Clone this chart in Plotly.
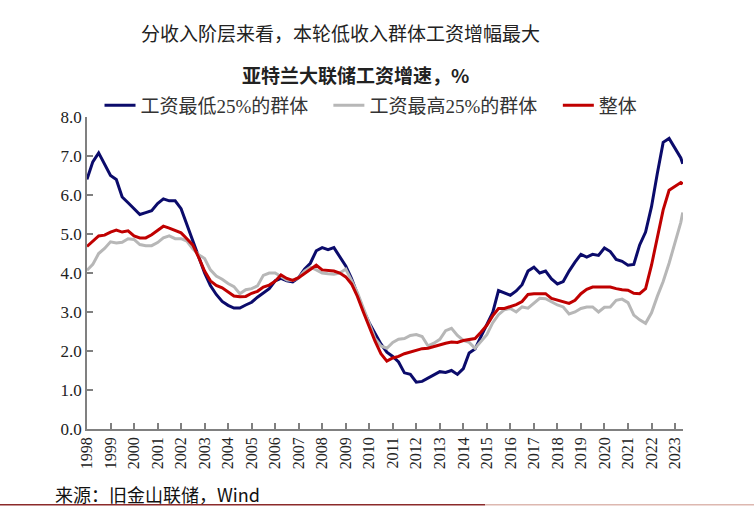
import pandas as pd
import plotly.graph_objects as go

# quarterly observations (Jan/Apr/Jul/Oct) 1998Q1 .. 2023Q2, plus May 2023
dates = list(pd.date_range("1998-01-01", "2023-04-01", freq="QS").strftime("%Y-%m-%d")) + ["2023-05-01"]

low25 = [
    6.40, 6.85, 7.08, 6.80,   # 1998
    6.50, 6.40, 5.95, 5.80,   # 1999
    5.65, 5.50, 5.55, 5.60,   # 2000
    5.78, 5.90, 5.85, 5.85,   # 2001
    5.65, 5.25, 4.80, 4.40,   # 2002
    4.00, 3.68, 3.45, 3.27,   # 2003
    3.17, 3.10, 3.10, 3.18,   # 2004
    3.25, 3.38, 3.50, 3.60,   # 2005
    3.80, 3.86, 3.80, 3.77,   # 2006
    3.88, 4.10, 4.25, 4.57,   # 2007
    4.65, 4.60, 4.65, 4.40,   # 2008
    4.18, 3.86, 3.45, 3.05,   # 2009
    2.72, 2.45, 2.18, 1.97,   # 2010
    1.86, 1.72, 1.44, 1.40,   # 2011
    1.20, 1.22, 1.30, 1.38,   # 2012
    1.47, 1.45, 1.50, 1.40,   # 2013
    1.55, 1.95, 2.05, 2.37,   # 2014
    2.66, 2.98, 3.55, 3.50,   # 2015
    3.43, 3.54, 3.70, 4.05,   # 2016
    4.15, 4.00, 4.05, 3.85,   # 2017
    3.72, 3.78, 4.05, 4.28,   # 2018
    4.48, 4.41, 4.48, 4.45,   # 2019
    4.64, 4.55, 4.35, 4.30,   # 2020
    4.20, 4.22, 4.72, 5.05,   # 2021
    5.70, 6.55, 7.35, 7.45,   # 2022
    7.20, 6.95, 6.80,         # 2023
]

top25 = [
    4.07, 4.22, 4.50, 4.63,
    4.80, 4.77, 4.79, 4.88,
    4.86, 4.73, 4.70, 4.70,
    4.78, 4.90, 4.95, 4.88,
    4.88, 4.82, 4.62, 4.47,
    4.37, 4.08, 3.92, 3.84,
    3.73, 3.65, 3.47, 3.57,
    3.60, 3.67, 3.94, 4.00,
    4.00, 3.92, 3.82, 3.81,
    3.88, 4.05, 4.15, 4.08,
    4.00, 3.98, 3.97, 4.00,
    4.10, 3.81, 3.50, 3.10,
    2.72, 2.32, 2.13, 2.07,
    2.22, 2.30, 2.32, 2.40,
    2.42, 2.37, 2.13, 2.20,
    2.30, 2.52, 2.58, 2.40,
    2.27, 2.22, 2.07, 2.25,
    2.42, 2.72, 2.93, 3.06,
    3.09, 3.00, 3.13, 3.10,
    3.22, 3.35, 3.34, 3.25,
    3.18, 3.13, 2.95, 3.00,
    3.09, 3.13, 3.13, 3.00,
    3.12, 3.13, 3.30, 3.33,
    3.24, 2.92, 2.80, 2.71,
    2.98, 3.40, 3.78, 4.25,
    4.75, 5.30, 5.55,
]

overall = [
    4.68, 4.82, 4.95, 4.97,
    5.05, 5.10, 5.05, 5.08,
    4.95, 4.90, 4.90, 4.98,
    5.08, 5.20, 5.15, 5.10,
    5.03, 4.88, 4.72, 4.40,
    4.05, 3.80, 3.68, 3.62,
    3.52, 3.41, 3.39, 3.40,
    3.48, 3.53, 3.64, 3.69,
    3.79, 3.95, 3.86, 3.81,
    3.88, 3.98, 4.10, 4.20,
    4.08, 4.07, 4.05, 4.00,
    3.90, 3.72, 3.40, 3.00,
    2.60, 2.25, 1.93, 1.74,
    1.82, 1.86, 1.93, 1.97,
    2.02, 2.06, 2.07, 2.12,
    2.17, 2.20, 2.23, 2.22,
    2.27, 2.30, 2.32, 2.48,
    2.66, 2.90, 3.09, 3.09,
    3.14, 3.19, 3.27, 3.45,
    3.47, 3.47, 3.47, 3.35,
    3.30, 3.26, 3.22, 3.30,
    3.47, 3.58, 3.64, 3.64,
    3.64, 3.64, 3.60, 3.57,
    3.56, 3.48, 3.47, 3.60,
    4.20, 4.95, 5.62, 6.12,
    6.22, 6.32, 6.28,
]

series_names = ["工资最低25%的群体", "工资最高25%的群体", "整体"]
series_colors = ["#0B0B6B", "#B7B7B7", "#C00000"]
year_ticks = [f"{y}-01-01" for y in range(1998, 2024)]
year_labels = [str(y) for y in range(1998, 2024)]
y_ticks = [0, 1, 2, 3, 4, 5, 6, 7, 8]
y_labels = [f"{v:.1f}" for v in y_ticks]

title_text = "分收入阶层来看，本轮低收入群体工资增幅最大"
subtitle_text = "亚特兰大联储工资增速，%"
source_text = "来源：旧金山联储，Wind"

FONT = "Liberation Serif, Noto Sans CJK SC, serif"
CJK = "Noto Sans CJK SC, sans-serif"

legend_ids = ["legend", "legend2", "legend3"]
legend_x = [0.021, 0.405, 0.790]

fig = go.Figure()
for name, vals, col, lid in zip(series_names, [low25, top25, overall], series_colors, legend_ids):
    fig.add_trace(go.Scatter(
        x=dates, y=vals, mode="lines", name=name, legend=lid,
        line=dict(color=col, width=3),
    ))

legend_common = dict(
    orientation="h", y=1.037, xanchor="left", yanchor="middle",
    font=dict(family=FONT, size=19, color="#333333"),
    itemwidth=31, bgcolor="rgba(0,0,0,0)",
)

fig.update_layout(
    width=754, height=506,
    margin=dict(l=87, r=71, t=117, b=77, autoexpand=False),
    paper_bgcolor="white", plot_bgcolor="white",
    font=dict(family=FONT, size=17, color="#222222"),
    showlegend=True,
    legend=dict(x=legend_x[0], **legend_common),
    legend2=dict(x=legend_x[1], **legend_common),
    legend3=dict(x=legend_x[2], **legend_common),
    xaxis=dict(
        type="date", range=["1998-01-01", "2023-05-05"],
        tickvals=year_ticks, ticktext=year_labels, tickangle=-90,
        ticks="inside", ticklen=6, tickcolor="#808080", tickwidth=1.5,
        showline=True, linecolor="#808080", linewidth=1.5,
        showgrid=False, zeroline=False,
        tickfont=dict(family=FONT, size=16, color="#222222"),
    ),
    yaxis=dict(
        range=[0, 8], tickvals=y_ticks, ticktext=y_labels,
        ticks="inside", ticklen=6, tickcolor="#808080", tickwidth=1.5,
        showline=True, linecolor="#808080", linewidth=1.5,
        showgrid=False, zeroline=False,
        tickfont=dict(family=FONT, size=17, color="#222222"),
    ),
    annotations=[
        dict(text=title_text, xref="paper", yref="paper", x=0.4245, y=1.27,
             xanchor="center", yanchor="middle", showarrow=False,
             font=dict(family=CJK, size=19, color="#222222")),
        dict(text="<b>" + subtitle_text + "</b>", xref="paper", yref="paper", x=0.45, y=1.136,
             xanchor="center", yanchor="middle", showarrow=False,
             font=dict(family=CJK, size=19, color="#222222")),
        dict(text=source_text, xref="paper", yref="paper", x=-0.057, y=-0.207,
             xanchor="left", yanchor="middle", showarrow=False,
             font=dict(family=CJK, size=18, color="#111111")),
    ],
    shapes=[
        dict(type="line", xref="paper", yref="paper", x0=-0.146, x1=0.668,
             y0=-0.243, y1=-0.243, line=dict(color="#8B2A2A", width=1.5)),
        dict(type="line", xref="paper", yref="paper", x0=0.668, x1=1.12,
             y0=-0.243, y1=-0.243, line=dict(color="#DDB8B0", width=1.5)),
    ],
)

fig.write_html("out.html", config={"displayModeBar": False},
               post_script="document.body.style.margin='0px';")
